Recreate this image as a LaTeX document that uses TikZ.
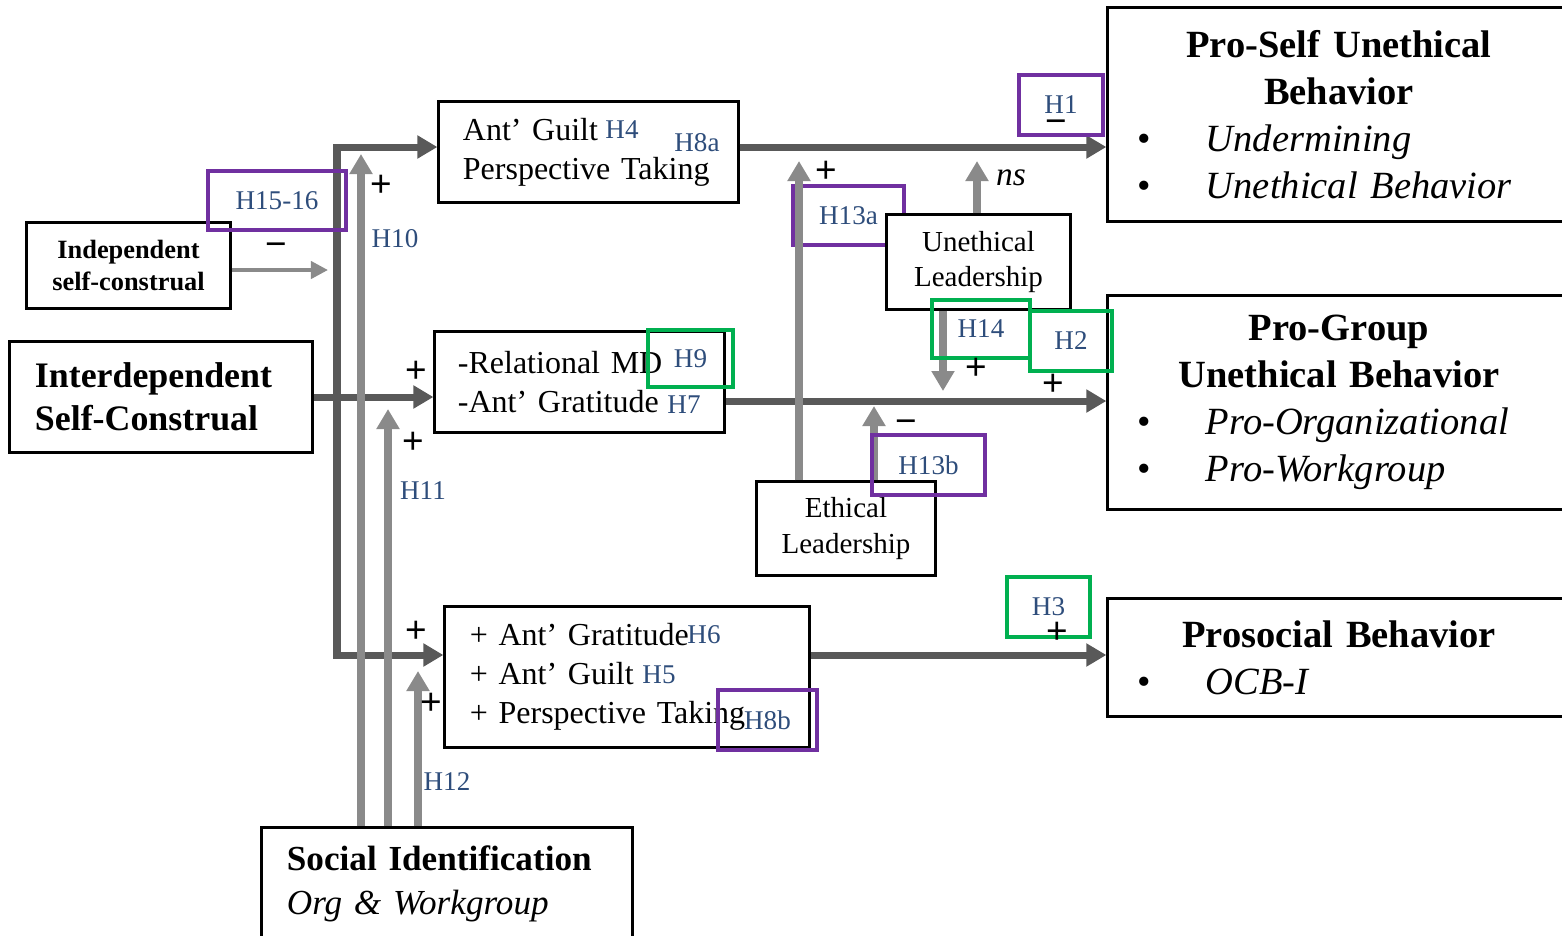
\documentclass[tikz,border=0pt]{standalone}
\usepackage{fontspec}
\setmainfont{Liberation Serif}
\newfontfamily\signfont{Liberation Sans}
\usepackage{tikz}
\usetikzlibrary{arrows.meta, positioning, calc}
\definecolor{pathgray}{HTML}{595959}
\definecolor{modgray}{HTML}{8A8A8A}
\definecolor{hypblue}{HTML}{2E4D7B}
\definecolor{hyppurple}{HTML}{7030A0}
\definecolor{hypgreen}{HTML}{00B050}
\newcommand{\outitem}[1]{\makebox[4.02cm][l]{\makebox[0.68cm][l]{\textbullet}\textit{#1}}}

\begin{document}
\begin{tikzpicture}[x=0.01cm, y=-0.01cm,
    box/.style={rectangle, draw=black, line width=0.03cm, fill=white, inner ysep=0pt},
    antebox/.style={box, align=left, inner xsep=0.25cm, font=\fontsize{10.2}{12.2}\selectfont\bfseries},
    medbox/.style={box, align=left, inner xsep=0.24cm, font=\fontsize{9.1}{11.1}\selectfont},
    leadbox/.style={box, align=center, inner xsep=0pt, font=\fontsize{8.25}{10}\selectfont},
    outbox/.style={box, align=center, inner xsep=0.3cm, text width=4.02cm, font=\fontsize{10.95}{13.37}\selectfont},
    hyp/.style={inner sep=0pt, text=hypblue, font=\fontsize{7.7}{9}\selectfont},
    pframe/.style={hyp, rectangle, draw=hyppurple, line width=0.04cm},
    gframe/.style={hyp, rectangle, draw=hypgreen, line width=0.04cm},
    sign/.style={inner sep=0pt, font=\signfont\fontsize{10.5}{11}\selectfont},
    mainarr/.style={-{Triangle[length=0.2cm, width=0.22cm]}, line width=0.07cm, color=pathgray},
    modarr/.style={-{Triangle[length=0.2cm, width=0.22cm]}, line width=0.07cm, color=modgray},
    thinarr/.style={-{Triangle[length=0.17cm, width=0.17cm]}, line width=0.04cm, color=modgray},
  ]
  \useasboundingbox (0,0) rectangle (1562,935);

  % Antecedents
  \node[antebox, text width=1.83cm, inner xsep=0.1cm, minimum height=0.85cm, align=center, font=\fontsize{7.5}{9.1}\selectfont\bfseries] (indep) at (128.5,265.5) {Independent\\self-construal};
  \node[antebox, text width=2.52cm, minimum height=1.10cm] (interdep) at (161,397) {Interdependent\\Self-Construal};
  \node[antebox, text width=3.20cm, minimum height=1.12cm, font=\fontsize{10}{12.5}\selectfont] (social) at (447,884) {\textbf{Social Identification}\\\textit{Org \& Workgroup}};

  % Mediators
  \node[medbox, text width=2.51cm, minimum height=1.01cm] (antguilt) at (588.5,152) {Ant’ Guilt\\Perspective Taking};
  \node[medbox, text width=2.43cm, inner xsep=0.23cm, minimum height=1.01cm] (relmd) at (579.5,382) {-Relational MD\\-Ant’ Gratitude};
  \node[medbox, text width=3.14cm, inner xsep=0.25cm, minimum height=1.40cm] (mediate) at (627,677) {+ Ant’ Gratitude\\+ Ant’ Guilt\\+ Perspective Taking};

  % Outcomes
  \node[outbox, minimum height=2.13cm] (proself) at (1339,114.5) {\textbf{Pro-Self Unethical}\\\textbf{Behavior}\\\outitem{Undermining}\\\outitem{Unethical Behavior}};
  \node[outbox, minimum height=2.13cm] (progroup) at (1339,402.5) {\textbf{Pro-Group}\\\textbf{Unethical Behavior}\\\outitem{Pro-Organizational}\\\outitem{Pro-Workgroup}};
  \node[outbox, minimum height=1.17cm] (prosocial) at (1339,657.5) {\textbf{Prosocial Behavior}\\\outitem{OCB-I}};

  % Leadership moderators
  \node[pframe, minimum width=1.11cm, minimum height=0.59cm] (h13a) at (848.5,215.5) {H13a};
  \node[leadbox, minimum width=1.83cm, minimum height=0.94cm] (unethlead) at (978.5,262) {Unethical\\Leadership};
  \node[leadbox, minimum width=1.78cm, minimum height=0.93cm] (ethlead) at (846,528.5) {Ethical\\Leadership};

  % Main paths
  \coordinate (split) at (337,400);
  \draw[mainarr] (interdep.east) -- (interdep.east -| relmd.west);
  \draw[mainarr] (split) |- ([yshift=0.05cm]antguilt.west);
  \draw[mainarr] (split) |- ([yshift=0.22cm]mediate.west);
  \draw[mainarr] ([yshift=0.05cm]antguilt.east) -- ([yshift=0.05cm]antguilt.east -| proself.west);
  \draw[mainarr] ([yshift=-0.19cm]relmd.east) -- ([yshift=-0.19cm]relmd.east -| progroup.west);
  \draw[mainarr] ([yshift=0.22cm]mediate.east) -- ([yshift=0.22cm]mediate.east -| prosocial.west);
  \draw[thinarr, shorten >=0.09cm] ([yshift=-0.045cm]indep.east) -- ([yshift=-0.045cm]indep.east -| split);

  % Moderating arrows
  \coordinate (h10tip) at (361,154);
  \coordinate (h11tip) at (388,409);
  \coordinate (h12tip) at (418,671);
  \coordinate (h13atip) at (799,161);
  \coordinate (h13btip) at (874,406);
  \coordinate (nstip) at (977,161);
  \coordinate (h14tip) at (943,391);
  \draw[modarr] (social.north -| h10tip) -- (h10tip);
  \draw[modarr] (social.north -| h11tip) -- (h11tip);
  \draw[modarr] (social.north -| h12tip) -- (h12tip);
  \draw[modarr] (ethlead.north -| h13atip) -- (h13atip);
  \draw[modarr] (ethlead.north -| h13btip) -- (h13btip);
  \draw[modarr] (unethlead.north -| nstip) -- (nstip);
  \draw[modarr] (unethlead.south -| h14tip) -- (h14tip);

  % Hypothesis labels
  \node[hyp] (h4) at (622,130) {H4};
  \node[hyp] (h8a) at (697,143) {H8a};
  \node[hyp] (h7) at (684,405) {H7};
  \node[hyp] (h6) at (704,635) {H6};
  \node[hyp] (h5) at (659,675) {H5};
  \node[hyp] (h10) at (395,239) {H10};
  \node[hyp] (h11) at (423,491) {H11};
  \node[hyp] (h12) at (447,782) {H12};
  \node[pframe, minimum width=1.38cm, minimum height=0.59cm] (h1516) at (277,200.5) {H15-16};
  \node[pframe, minimum width=0.84cm, minimum height=0.60cm] (h1) at (1061,105) {H1};
  \node[pframe, minimum width=1.13cm, minimum height=0.60cm] (h13b) at (928.5,465) {H13b};
  \node[pframe, minimum width=0.99cm, minimum height=0.60cm] (h8b) at (767.5,720) {H8b};
  \node[gframe, minimum width=0.98cm, minimum height=0.58cm] (h14) at (981,329) {H14};
  \node[gframe, minimum width=0.82cm, minimum height=0.60cm] (h2) at (1071,341) {H2};
  \node[gframe, minimum width=0.85cm, minimum height=0.57cm] (h9) at (690.5,358.5) {H9};
  \node[gframe, minimum width=0.83cm, minimum height=0.60cm] (h3) at (1048.5,607) {H3};

  % Signs
  \node[sign] (sgindep) at (276,250) {−};
  \node[sign] (sgh10) at (381,186) {+};
  \node[sign] (sgrel) at (416,372) {+};
  \node[sign] (sgh11) at (413,443) {+};
  \node[sign] (sgmed) at (416,632) {+};
  \node[sign] (sgh12) at (431,704) {+};
  \node[sign] (sgh13a) at (826,172) {+};
  \node[sign] (sgh13b) at (906,427) {−};
  \node[sign] (sgh1) at (1056,127) {−};
  \node[sign] (sgh14) at (976,369) {+};
  \node[sign] (sgh2) at (1053,385) {+};
  \node[sign] (sgh3) at (1057,633) {+};
  \node[inner sep=0pt, font=\fontsize{9.5}{10}\selectfont\itshape] (ns) at (1011,178) {ns};
\end{tikzpicture}
\end{document}
